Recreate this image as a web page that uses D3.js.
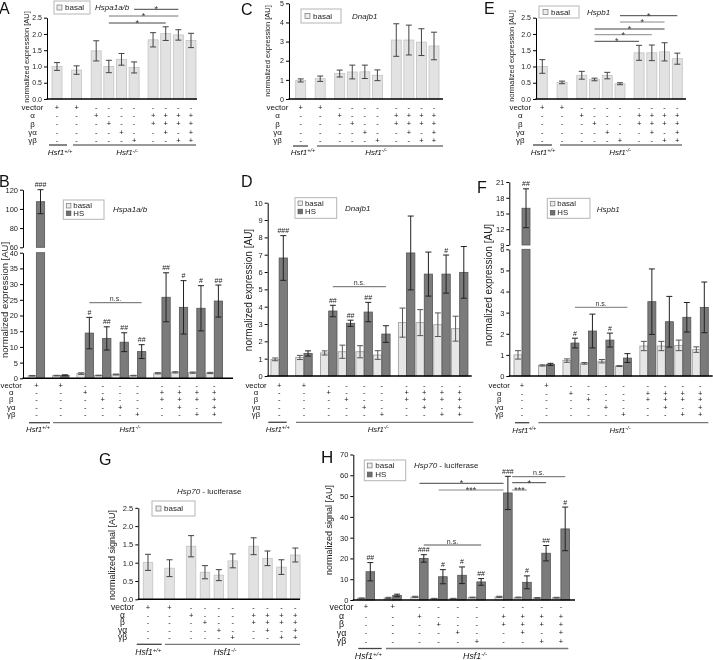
<!DOCTYPE html>
<html><head><meta charset="utf-8">
<script src="https://cdn.jsdelivr.net/npm/d3@7"></script>
<style>
body{margin:0;background:#fff;}
svg{display:block;filter:grayscale(1);}
</style></head><body>
<svg id="chart" width="713" height="660"></svg>
<script>
// ================= DATA =================
const rowLabels = ["vector", "α", "β", "γα", "γβ"];
const rowSigns = [
  ["+","+","-","-","-","-","-","-","-","-"],
  ["-","-","+","-","-","-","+","+","+","+"],
  ["-","-","-","+","-","-","+","+","+","+"],
  ["-","-","-","-","+","-","-","+","-","+"],
  ["-","-","-","-","-","+","-","-","+","+"]
];
const genoBase = "Hsf1";
const genoSup = ["+/+", "-/-"];
const legendLabels = ["basal", "HS"];

// A  Hspa1a/b basal
const aBasal    = [1.00, 0.89, 1.48, 1.00, 1.22, 0.97, 1.82, 2.01, 1.97, 1.80];
const aBasalErr = [0.12, 0.13, 0.31, 0.19, 0.18, 0.17, 0.22, 0.21, 0.16, 0.22];
const aSig = [[5, 8, "*"], [3, 8, "*"], [3, 7, "*"]];
// C  Dnajb1 basal
const cBasal    = [0.97, 1.06, 1.33, 1.41, 1.42, 1.24, 3.08, 3.08, 2.97, 2.77];
const cBasalErr = [0.08, 0.14, 0.18, 0.36, 0.35, 0.28, 0.85, 0.78, 0.70, 0.72];
// E  Hspb1 basal
const eBasal    = [1.00, 0.51, 0.73, 0.60, 0.72, 0.47, 1.42, 1.42, 1.45, 1.24];
const eBasalErr = [0.21, 0.04, 0.12, 0.04, 0.10, 0.03, 0.23, 0.24, 0.28, 0.17];
const eSig = [[5, 9, "*"], [5, 8, "*"], [3, 8, "*"], [3, 7, "*"], [3, 6, "*"]];
// B  Hspa1a/b basal + HS
const bBasal    = [0.8, 0.85, 1.5, 0.9, 1.2, 0.85, 1.6, 1.9, 1.8, 1.7];
const bBasalErr = [0.1, 0.1, 0.25, 0.1, 0.15, 0.1, 0.2, 0.2, 0.2, 0.2];
const bHS       = [107.5, 0.95, 14.4, 12.7, 11.5, 8.5, 25.8, 22.6, 22.3, 24.6];
const bHSErr    = [12.5, 0.15, 5.0, 3.7, 3.0, 2.2, 7.8, 8.5, 7.2, 5.1];
const bHash     = ["###", "", "#", "##", "##", "##", "##", "#", "#", "##"];
const bTicksLow = [0, 5, 10, 15, 20, 25, 30, 35, 40];
const bTicksHigh = [60, 80, 100, 120];
// D  Dnajb1 basal + HS
const dBasal    = [0.96, 1.07, 1.33, 1.40, 1.40, 1.21, 3.08, 3.08, 2.96, 2.73];
const dBasalErr = [0.08, 0.12, 0.12, 0.38, 0.35, 0.25, 0.84, 0.75, 0.68, 0.72];
const dHS       = [6.81, 1.30, 3.75, 3.04, 3.69, 2.42, 7.10, 5.88, 5.88, 5.98];
const dHSErr    = [1.29, 0.15, 0.33, 0.18, 0.56, 0.48, 2.13, 1.27, 1.10, 1.49];
const dHash     = ["###", "", "##", "##", "##", "", "", "", "#", ""];
// F  Hspb1 basal + HS
const fBasal    = [1.00, 0.50, 0.73, 0.60, 0.70, 0.47, 1.42, 1.42, 1.45, 1.25];
const fBasalErr = [0.20, 0.03, 0.08, 0.04, 0.08, 0.02, 0.22, 0.22, 0.25, 0.13];
const fHS       = [16.0, 0.55, 1.56, 2.13, 1.70, 0.85, 3.52, 2.57, 2.78, 3.25];
const fHSErr    = [3.7, 0.05, 0.23, 0.80, 0.33, 0.21, 1.55, 1.20, 0.70, 1.20];
const fHash     = ["##", "", "#", "", "#", "", "", "", "", ""];
const fTicksLow = [0, 1, 2, 3, 4, 5, 6];
const fTicksHigh = [9, 12, 15, 18, 21];
// G  Hsp70-luciferase basal
const gBasal    = [1.01, 0.85, 1.45, 0.74, 0.66, 1.05, 1.45, 1.12, 0.88, 1.21];
const gBasalErr = [0.22, 0.23, 0.29, 0.18, 0.15, 0.19, 0.23, 0.20, 0.20, 0.19];
// H  Hsp70-luciferase basal + HS
const hBasal    = [0.8, 1.0, 1.5, 0.6, 0.6, 1.2, 1.5, 1.2, 1.0, 1.1];
const hBasalErr = [0.2, 0.3, 0.3, 0.2, 0.2, 0.2, 0.3, 0.2, 0.2, 0.2];
const hHS       = [13.6, 2.2, 20.0, 11.2, 11.9, 8.7, 51.5, 8.5, 22.5, 34.2];
const hHSErr    = [4.4, 0.6, 1.8, 3.4, 4.0, 1.6, 8.0, 3.1, 3.7, 10.5];
const hHash     = ["##", "", "###", "#", "#", "##", "###", "#", "##", "#"];

// ================= STYLE / LAYOUT =================
const FONT = '"Liberation Sans", Arial, Helvetica, sans-serif';
const SINGLE = [0, 1.55, 3.1, 4.1, 5.1, 6.1, 7.6, 8.6, 9.6, 10.6];
const PAIR = [0, 1.4, 2.8, 3.8, 4.8, 5.8, 7.2, 8.2, 9.2, 10.2];
const C_BASAL_TOP = {fill: "#e2e2e2", stroke: "#c4c4c4", err: "#444"};
const C_BASAL = {fill: "#e6e6e6", stroke: "#9a9a9a", err: "#555"};
const C_HS = {fill: "#7b7b7b", stroke: "#555", err: "#222"};
const f1 = d3.format(".1f");
const fi = d => String(d);

const svg = d3.select("#chart").attr("font-family", FONT);

function txt(g, x, y, s, o) {
  o = o || {};
  const t = g.append("text").attr("x", x).attr("y", y).text(s)
    .attr("font-size", o.fs || 8).attr("fill", o.fill || "#111")
    .attr("text-anchor", o.anchor || "start");
  if (o.italic) t.attr("font-style", "italic");
  if (o.dy) t.attr("dy", o.dy);
  return t;
}

function panel(L, series) {
  const g = svg.append("g");
  const segs = L.segs.map(s => ({sc: d3.scaleLinear().domain(s.d).range(s.r), t: s.t, f: s.f}));
  const yMap = v => {
    for (let i = segs.length - 1; i >= 0; i--) {
      if (i === 0 || v >= segs[i].sc.domain()[0]) return segs[i].sc(v);
    }
  };
  const slot = d3.scaleLinear().domain([L.slots[0], L.slots[L.slots.length - 1]]).range(L.xr);
  const xc = i => slot(L.slots[i]);

  // bars
  series.forEach(s => {
    s.vals.forEach((v, i) => {
      const cx = xc(i) + s.dx;
      segs.forEach((sg, k) => {
        const [lo, hi] = sg.sc.domain();
        const last = k === segs.length - 1;
        if (k > 0 && v <= lo) return;
        const top = sg.sc(last ? v : Math.min(v, hi));
        const bot = sg.sc(lo);
        g.append("rect").attr("x", cx - L.bw / 2).attr("y", top)
          .attr("width", L.bw).attr("height", Math.max(0, bot - top))
          .attr("fill", s.c.fill).attr("stroke", s.c.stroke).attr("stroke-width", 0.8);
      });
    });
  });
  // error bars
  series.forEach(s => {
    s.vals.forEach((v, i) => {
      const cx = xc(i) + s.dx, e = s.errs[i];
      const y1 = yMap(v + e), y2 = yMap(Math.max(0, v - e));
      g.append("line").attr("x1", cx).attr("x2", cx).attr("y1", y1).attr("y2", y2)
        .attr("stroke", s.c.err).attr("stroke-width", 1);
      [y1, y2].forEach(yy => g.append("line").attr("x1", cx - L.cap).attr("x2", cx + L.cap)
        .attr("y1", yy).attr("y2", yy).attr("stroke", s.c.err).attr("stroke-width", 1));
      if (s.hash && s.hash[i]) {
        txt(g, cx, y1 - 2.5, s.hash[i], {fs: L.hashFs || 7, anchor: "middle", fill: "#222"});
      }
    });
  });
  // y axes
  segs.forEach(s => {
    const ax = d3.axisLeft(s.sc).tickValues(s.t).tickFormat(s.f).tickSize(3).tickSizeOuter(0).tickPadding(2);
    const a = g.append("g").attr("transform", `translate(${L.ax},0)`).call(ax);
    a.attr("font-family", FONT);
    a.selectAll("text").attr("font-size", L.tickFs).attr("fill", "#222");
    a.select(".domain").attr("stroke", "#000").attr("stroke-width", 1);
    a.selectAll(".tick line").attr("stroke", "#000");
  });
  // x baseline
  g.append("line").attr("x1", L.ax - 0.5).attr("x2", L.xEnd).attr("y1", yMap(0)).attr("y2", yMap(0))
    .attr("stroke", "#000").attr("stroke-width", 1.6);

  // brackets (significance)
  (L.brackets || []).forEach(b => {
    const x1 = b.x1(xc), x2 = b.x2(xc);
    g.append("line").attr("x1", x1).attr("x2", x2).attr("y1", b.y).attr("y2", b.y)
      .attr("stroke", b.col || "#555").attr("stroke-width", 1);
    const isNs = b.label === "n.s.";
    txt(g, (x1 + x2) / 2, isNs ? b.y - 1.5 : b.y + 2.8, b.label,
      {fs: isNs ? (L.nsFs || 7) : 9, anchor: "middle", fill: "#333"});
  });

  // condition rows
  rowLabels.forEach((lab, r) => {
    txt(g, L.rowX, L.rowY[r], lab, {fs: L.rowFs, anchor: "middle", dy: "0.35em"});
    rowSigns[r].forEach((s, i) => {
      txt(g, xc(i), L.rowY[r], s, {fs: L.signFs || 7.5, anchor: "middle", dy: "0.35em"});
    });
  });
  // genotype lines + labels
  [L.genoPlus, L.genoMinus].forEach((seg, k) => {
    g.append("line").attr("x1", seg[0]).attr("x2", seg[1]).attr("y1", L.genoY).attr("y2", L.genoY)
      .attr("stroke", k === 0 ? "#444" : "#777").attr("stroke-width", 1.3);
    const t = txt(g, L.genoLX[k], L.genoTY, genoBase, {fs: L.rowFs, anchor: "middle", italic: true, dy: "0.35em"});
    t.append("tspan").attr("font-size", L.rowFs * 0.7).attr("dy", "-0.45em").text(genoSup[k]);
  });
  // legend
  const lg = L.legend;
  g.append("rect").attr("x", lg.x).attr("y", lg.y).attr("width", lg.w).attr("height", lg.h)
    .attr("fill", "#fff").attr("stroke", "#b5b5b5").attr("stroke-width", 1);
  lg.items.forEach((it, k) => {
    const c = it === 0 ? {fill: "#ececec", stroke: "#777"} : {fill: "#6f6f6f", stroke: "#555"};
    g.append("rect").attr("x", lg.x + lg.sx).attr("y", lg.iy[k] - lg.ss / 2).attr("width", lg.ss).attr("height", lg.ss)
      .attr("fill", c.fill).attr("stroke", c.stroke).attr("stroke-width", 0.7);
    txt(g, lg.x + lg.tx, lg.iy[k], legendLabels[it], {fs: lg.fs, dy: "0.35em", fill: "#222"});
  });
  // gene label
  const gt = txt(g, L.gene.x, L.gene.y, L.gene.it, {fs: L.gene.fs, italic: true, dy: "0.35em", fill: "#222"});
  if (L.gene.rest) gt.append("tspan").attr("font-style", "normal").text(L.gene.rest);
  // y label
  g.append("text").attr("transform", `translate(${L.yl.x},${L.yl.y}) rotate(-90)`)
    .attr("text-anchor", "middle").attr("font-size", L.yl.fs).attr("fill", "#222").text(L.yl.t);
  // panel letter
  txt(g, L.letter.x, L.letter.y, L.letter.t, {fs: L.letter.fs || 16, fill: "#111"});
}

// helpers for bracket endpoints
const at = (i, dx) => xc => xc(i) + (dx || 0);

// ---------- Panel A ----------
panel({
  letter: {t: "A", x: -1, y: 13.5},
  ax: 47, xEnd: 197, slots: SINGLE, xr: [57, 191], bw: 10, cap: 3,
  segs: [{d: [0, 2.5], r: [99, 17.7], t: [0, 0.5, 1, 1.5, 2, 2.5], f: f1}],
  tickFs: 7,
  brackets: [
    {x1: at(aSig[0][0]), x2: at(aSig[0][1]), y: 9.3, label: aSig[0][2], col: "#444"},
    {x1: at(aSig[1][0]), x2: at(aSig[1][1]), y: 16, label: aSig[1][2], col: "#777"},
    {x1: at(aSig[2][0]), x2: at(aSig[2][1]), y: 23, label: aSig[2][2], col: "#444"}
  ],
  rowX: 32.5, rowY: [107, 115.5, 123.7, 132, 140], rowFs: 8,
  genoY: 145, genoPlus: [49, 67], genoMinus: [73, 196], genoTY: 152.5, genoLX: [60, 127],
  legend: {x: 54, y: 1, w: 36, h: 13, items: [0], iy: [7.5], sx: 3, ss: 5, tx: 11, fs: 8},
  gene: {x: 95, y: 7, it: "Hspa1a/b", fs: 8},
  yl: {x: 29, y: 57, fs: 7.5, t: "normalized expression [AU]"}
}, [{vals: aBasal, errs: aBasalErr, c: C_BASAL_TOP, dx: 0}]);

// ---------- Panel C ----------
panel({
  letter: {t: "C", x: 241, y: 15},
  ax: 289, xEnd: 443, slots: SINGLE, xr: [300.7, 434], bw: 10, cap: 3,
  segs: [{d: [0, 5], r: [99, 3.3], t: [0, 1, 2, 3, 4, 5], f: fi}],
  tickFs: 7,
  rowX: 277.5, rowY: [107, 115.5, 123.7, 132, 140], rowFs: 8,
  genoY: 146, genoPlus: [293, 308], genoMinus: [317, 443], genoTY: 152, genoLX: [303, 376],
  legend: {x: 301, y: 9, w: 40, h: 14, items: [0], iy: [16], sx: 4, ss: 5, tx: 12, fs: 8},
  gene: {x: 352, y: 16, it: "Dnajb1", fs: 8},
  yl: {x: 270, y: 51, fs: 7.5, t: "normalized expression [AU]"}
}, [{vals: cBasal, errs: cBasalErr, c: C_BASAL_TOP, dx: 0}]);

// ---------- Panel E ----------
panel({
  letter: {t: "E", x: 484, y: 13.5},
  ax: 536, xEnd: 686, slots: SINGLE, xr: [542.3, 677.3], bw: 10, cap: 3,
  segs: [{d: [0, 2.5], r: [99, 17.7], t: [0, 0.5, 1, 1.5, 2, 2.5], f: f1}],
  tickFs: 7,
  brackets: [
    {x1: at(eSig[0][0]), x2: at(eSig[0][1]), y: 15.7, label: eSig[0][2], col: "#444"},
    {x1: at(eSig[1][0]), x2: at(eSig[1][1]), y: 22, label: eSig[1][2], col: "#888"},
    {x1: at(eSig[2][0]), x2: at(eSig[2][1]), y: 29, label: eSig[2][2], col: "#444"},
    {x1: at(eSig[3][0]), x2: at(eSig[3][1]), y: 34.7, label: eSig[3][2], col: "#888"},
    {x1: at(eSig[4][0]), x2: at(eSig[4][1]), y: 41.3, label: eSig[4][2], col: "#444"}
  ],
  rowX: 520.3, rowY: [107, 115.5, 123.7, 132, 140], rowFs: 8,
  genoY: 145, genoPlus: [533, 552], genoMinus: [560, 682], genoTY: 152, genoLX: [543, 620],
  legend: {x: 539, y: 6, w: 40, h: 12, items: [0], iy: [12], sx: 4, ss: 5, tx: 12, fs: 8},
  gene: {x: 587, y: 12.5, it: "Hspb1", fs: 8},
  yl: {x: 514, y: 56, fs: 7.5, t: "normalized expression [AU]"}
}, [{vals: eBasal, errs: eBasalErr, c: C_BASAL_TOP, dx: 0}]);

// ---------- Panel B ----------
panel({
  letter: {t: "B", x: -1, y: 187},
  ax: 23, xEnd: 233, slots: PAIR, xr: [36.4, 214.3], bw: 8.3, cap: 3,
  segs: [
    {d: [0, 40], r: [378.3, 252.7], t: bTicksLow, f: fi},
    {d: [60, 120], r: [247.3, 189.7], t: bTicksHigh, f: fi}
  ],
  tickFs: 7.5, hashFs: 7,
  brackets: [{x1: at(2, 4.1), x2: at(5, 4.1), y: 302.7, label: "n.s.", col: "#666"}],
  rowX: 11.2, rowY: [385, 392.7, 399.7, 407.3, 414.5], rowFs: 7.8,
  genoY: 422.7, genoPlus: [29, 50], genoMinus: [53, 222], genoTY: 429, genoLX: [38, 130],
  legend: {x: 63.3, y: 200, w: 40.7, h: 19.3, items: [0, 1], iy: [205.7, 213.3], sx: 3, ss: 4.6, tx: 10, fs: 7.8},
  gene: {x: 113, y: 209, it: "Hspa1a/b", fs: 8},
  yl: {x: 8, y: 300, fs: 9.5, t: "normalized expression [AU]"}
}, [
  {vals: bBasal, errs: bBasalErr, c: C_BASAL, dx: -4.1},
  {vals: bHS, errs: bHSErr, c: C_HS, dx: 4.1, hash: bHash}
]);

// ---------- Panel D ----------
panel({
  letter: {t: "D", x: 241, y: 187},
  ax: 267.7, xEnd: 471.7, slots: PAIR, xr: [279.2, 459.7], bw: 8.3, cap: 3,
  segs: [{d: [0, 10], r: [376, 202.7], t: [0, 1, 2, 3, 4, 5, 6, 7, 8, 9, 10], f: fi}],
  tickFs: 7.5, hashFs: 7,
  brackets: [{x1: at(2, 4.1), x2: at(5, 4.1), y: 286.7, label: "n.s.", col: "#666"}],
  rowX: 256, rowY: [385, 392.7, 399.5, 407.3, 414.5], rowFs: 7.8,
  genoY: 422.3, genoPlus: [268.3, 286.7], genoMinus: [296, 473.3], genoTY: 429, genoLX: [277.7, 378.3],
  legend: {x: 295, y: 197.7, w: 41.7, h: 20.6, items: [0, 1], iy: [203.3, 211.5], sx: 3, ss: 4.6, tx: 10, fs: 7.8},
  gene: {x: 345, y: 207.7, it: "Dnajb1", fs: 8},
  yl: {x: 251.7, y: 290, fs: 10, t: "normalized expression [AU]"}
}, [
  {vals: dBasal, errs: dBasalErr, c: C_BASAL, dx: -4.1},
  {vals: dHS, errs: dHSErr, c: C_HS, dx: 4.1, hash: dHash}
]);

// ---------- Panel F ----------
panel({
  letter: {t: "F", x: 477, y: 193},
  ax: 509.3, xEnd: 712.7, slots: PAIR, xr: [522, 700.3], bw: 8, cap: 3,
  segs: [
    {d: [0, 6], r: [376, 249.3], t: fTicksLow, f: fi},
    {d: [9, 21], r: [245, 182], t: fTicksHigh, f: fi}
  ],
  tickFs: 7.5, hashFs: 7,
  brackets: [{x1: at(2, 4), x2: at(5, 4), y: 307.3, label: "n.s.", col: "#777"}],
  rowX: 499.2, rowY: [385, 393, 399.7, 407.3, 414.5], rowFs: 7.8,
  genoY: 422.7, genoPlus: [515, 529.3], genoMinus: [538.3, 708.3], genoTY: 430, genoLX: [524.3, 620],
  legend: {x: 547.3, y: 198.3, w: 42.7, h: 20, items: [0, 1], iy: [203.6, 212.7], sx: 3, ss: 4.6, tx: 10, fs: 7.8},
  gene: {x: 596.7, y: 209, it: "Hspb1", fs: 8},
  yl: {x: 491.7, y: 285, fs: 10, t: "normalized expression [AU]"}
}, [
  {vals: fBasal, errs: fBasalErr, c: C_BASAL, dx: -4},
  {vals: fHS, errs: fHSErr, c: C_HS, dx: 4, hash: fHash}
]);

// ---------- Panel G ----------
panel({
  letter: {t: "G", x: 99, y: 465},
  ax: 138.3, xEnd: 300, slots: SINGLE, xr: [148, 295.3], bw: 9.5, cap: 3,
  segs: [{d: [0, 2.5], r: [599.3, 507.8], t: [0, 0.5, 1, 1.5, 2, 2.5], f: f1}],
  tickFs: 7.5,
  rowX: 122.5, rowY: [607.3, 615, 622.5, 630, 637.5], rowFs: 8.5,
  genoY: 644.3, genoPlus: [136.7, 161.7], genoMinus: [165, 300], genoTY: 651.7, genoLX: [148.3, 225],
  legend: {x: 152, y: 501, w: 43, h: 15, items: [0], iy: [508.5], sx: 4, ss: 5, tx: 12, fs: 8},
  gene: {x: 177, y: 491, it: "Hsp70", rest: " - luciferase", fs: 8},
  yl: {x: 115, y: 555, fs: 9, t: "normalized signal [AU]"}
}, [{vals: gBasal, errs: gBasalErr, c: C_BASAL_TOP, dx: 0}]);

// ---------- Panel H ----------
panel({
  letter: {t: "H", x: 321, y: 463, fs: 17},
  ax: 353.3, xEnd: 575, slots: PAIR, xr: [366, 560.9], bw: 8.6, cap: 3,
  segs: [{d: [0, 70], r: [600, 454.5], t: [0, 10, 20, 30, 40, 50, 60, 70], f: fi}],
  tickFs: 7.5, hashFs: 7,
  brackets: [
    {x1: at(2, 4.3), x2: at(5, 4.3), y: 545, label: "n.s.", col: "#555"},
    {x1: at(2, 0), x2: at(6, 0), y: 483.3, label: "*", col: "#444"},
    {x1: at(3, 0), x2: at(6, 0), y: 490, label: "***", col: "#888"},
    {x1: at(6, 8.6), x2: at(9, 4.3), y: 476.7, label: "n.s.", col: "#666"},
    {x1: at(6, 8.6), x2: at(8, 4.3), y: 482.7, label: "*", col: "#444"},
    {x1: at(6, 8.6), x2: at(7, 4.3), y: 490, label: "***", col: "#888"}
  ],
  rowX: 341.5, rowY: [606.7, 616, 624.3, 632.7, 641], rowFs: 8.8,
  genoY: 648.5, genoPlus: [358.3, 381.7], genoMinus: [386, 568.3], genoTY: 655.5, genoLX: [368.3, 475],
  legend: {x: 364.3, y: 460, w: 41.4, h: 20.7, items: [0, 1], iy: [465.5, 474.5], sx: 3, ss: 4.8, tx: 11, fs: 8},
  gene: {x: 414, y: 465.5, it: "Hsp70", rest: " - luciferase", fs: 8},
  yl: {x: 332, y: 530, fs: 9, t: "normalized signal [AU]"}
}, [
  {vals: hBasal, errs: hBasalErr, c: C_BASAL, dx: -4.3},
  {vals: hHS, errs: hHSErr, c: C_HS, dx: 4.3, hash: hHash}
]);
</script>
</body></html>
